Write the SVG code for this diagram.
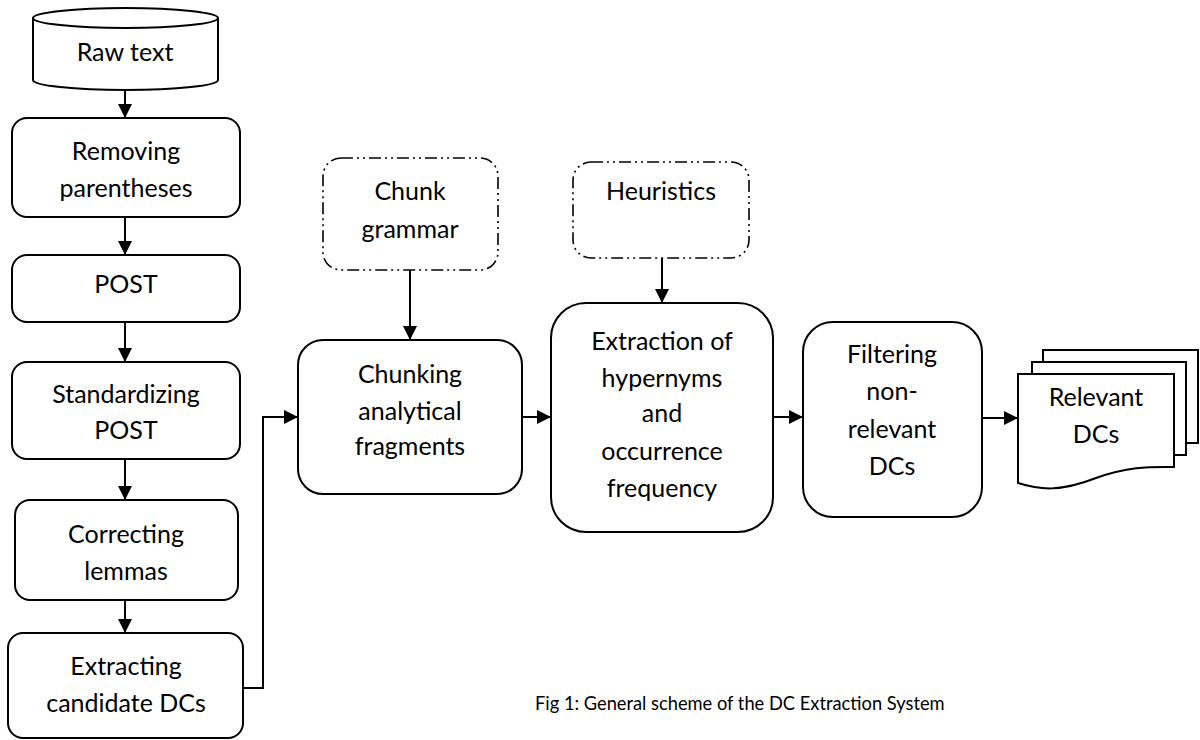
<svg xmlns="http://www.w3.org/2000/svg" width="1200" height="740" viewBox="0 0 1200 740">
<style>
.box{fill:#fff;stroke:#000;stroke-width:2}
.dash{fill:#fff;stroke:#000;stroke-width:1.6;stroke-dasharray:12 4 2 4 2 4}
.t{font-family:Lato,"Open Sans","Liberation Sans",sans-serif;font-size:25px;fill:#000;text-anchor:middle}
.cap{font-family:Lato,"Open Sans","Liberation Sans",sans-serif;font-size:18.3px;fill:#000}
.ln{fill:none;stroke:#000;stroke-width:2}
</style>
<defs>
<marker id="ah" viewBox="0 0 14 14" refX="14" refY="7" markerWidth="14" markerHeight="14" markerUnits="userSpaceOnUse" orient="auto">
<path d="M0,0 L14,7 L0,14 Z" fill="#000"/>
</marker>
</defs>
<g id="connectors">
<line class="ln" x1="125" y1="90" x2="125" y2="118" marker-end="url(#ah)"/>
<line class="ln" x1="125" y1="217" x2="125" y2="255" marker-end="url(#ah)"/>
<line class="ln" x1="125" y1="322" x2="125" y2="362" marker-end="url(#ah)"/>
<line class="ln" x1="125" y1="459" x2="125" y2="500" marker-end="url(#ah)"/>
<line class="ln" x1="125" y1="600" x2="125" y2="633" marker-end="url(#ah)"/>
<polyline class="ln" points="243,688 263,688 263,417 298,417" marker-end="url(#ah)"/>
<line class="ln" x1="410" y1="270" x2="410" y2="340" marker-end="url(#ah)"/>
<line class="ln" x1="662" y1="258" x2="662" y2="303" marker-end="url(#ah)"/>
<line class="ln" x1="522" y1="417" x2="551" y2="417" marker-end="url(#ah)"/>
<line class="ln" x1="773" y1="417" x2="803" y2="417" marker-end="url(#ah)"/>
<line class="ln" x1="982" y1="418" x2="1018" y2="418" marker-end="url(#ah)"/>
</g>
<g id="raw-text">
<path class="box" d="M33,18 V80 A92.5,10 0 0 0 218,80 V18"/>
<ellipse class="box" cx="125.5" cy="18" rx="92.5" ry="10"/>
<text class="t" x="125" y="61">Raw text</text>
</g>
<g id="removing-parentheses">
<rect class="box" x="12" y="118" width="228" height="99" rx="15"/>
<text class="t" x="126" y="160">Removing</text>
<text class="t" x="126" y="197">parentheses</text>
</g>
<g id="post">
<rect class="box" x="12" y="255" width="228" height="67" rx="15"/>
<text class="t" x="126" y="293">POST</text>
</g>
<g id="standardizing-post">
<rect class="box" x="12" y="362" width="228" height="97" rx="15"/>
<text class="t" x="126" y="403">Standardizing</text>
<text class="t" x="126" y="439">POST</text>
</g>
<g id="correcting-lemmas">
<rect class="box" x="15" y="500" width="223" height="100" rx="15"/>
<text class="t" x="126" y="543">Correcting</text>
<text class="t" x="126" y="580">lemmas</text>
</g>
<g id="extracting-candidate-dcs">
<rect class="box" x="8" y="633" width="235" height="105" rx="15"/>
<text class="t" x="126" y="675">Extracting</text>
<text class="t" x="126" y="712">candidate DCs</text>
</g>
<g id="chunk-grammar">
<rect class="dash" x="323" y="158" width="175" height="112" rx="18"/>
<text class="t" x="410" y="200">Chunk</text>
<text class="t" x="410" y="238">grammar</text>
</g>
<g id="heuristics">
<rect class="dash" x="573" y="162" width="176" height="96" rx="18"/>
<text class="t" x="661" y="200">Heuristics</text>
</g>
<g id="chunking">
<rect class="box" x="298" y="340" width="224" height="154" rx="25"/>
<text class="t" x="410" y="383">Chunking</text>
<text class="t" x="410" y="420">analytical</text>
<text class="t" x="410" y="455">fragments</text>
</g>
<g id="extraction">
<rect class="box" x="551" y="303" width="222" height="229" rx="35"/>
<text class="t" x="662" y="350">Extraction of</text>
<text class="t" x="662" y="387">hypernyms</text>
<text class="t" x="662" y="422">and</text>
<text class="t" x="662" y="460">occurrence</text>
<text class="t" x="662" y="497">frequency</text>
</g>
<g id="filtering">
<rect class="box" x="803" y="322" width="179" height="195" rx="30"/>
<text class="t" x="892" y="363">Filtering</text>
<text class="t" x="892" y="400">non-</text>
<text class="t" x="892" y="438">relevant</text>
<text class="t" x="892" y="475">DCs</text>
</g>
<g id="relevant-dcs">
<path class="box" d="M1043,350 H1198 V443 H1186 V362 H1043 Z"/>
<path class="box" d="M1032,362 H1186 V455 H1174 V374 H1032 Z"/>
<path class="box" d="M1018,374 H1174 V467 C1150,467 1130,466 1096,478 C1060,492 1040,490 1018,483 Z"/>
<text class="t" x="1096" y="406">Relevant</text>
<text class="t" x="1096" y="443">DCs</text>
</g>
<text class="cap" x="535" y="710">Fig 1: General scheme of the DC Extraction System</text>
</svg>
